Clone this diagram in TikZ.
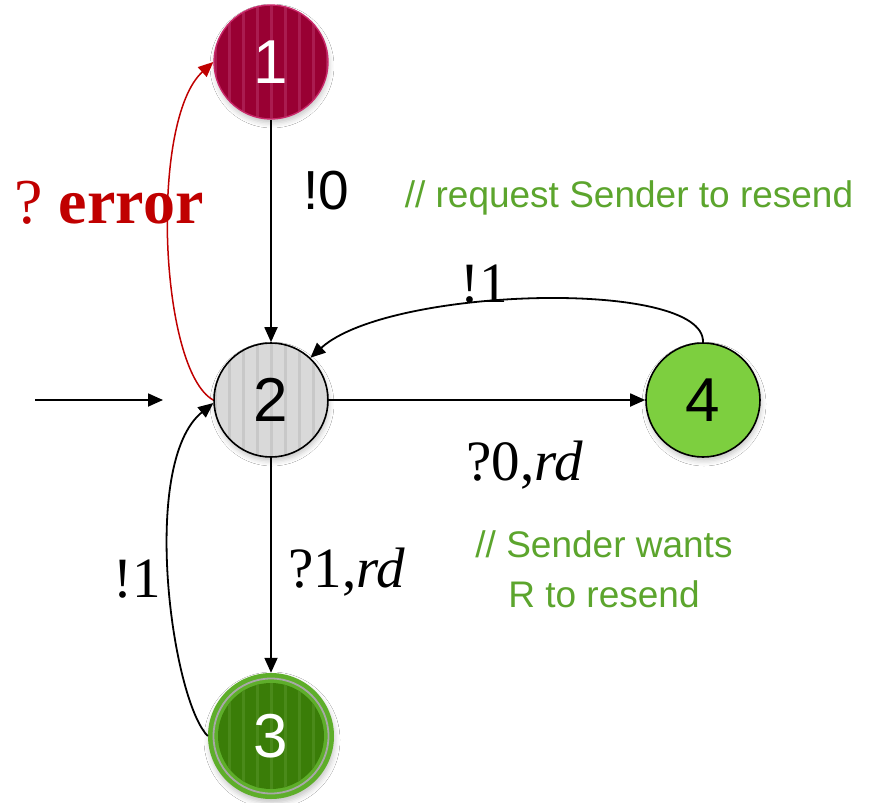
\documentclass[tikz,border=0pt]{standalone}
\usepackage{fontspec}
\setmainfont{Liberation Serif}
\newfontfamily\sansf{Liberation Sans}
\usetikzlibrary{arrows.meta,shadows.blur}

\definecolor{crimsonfill}{RGB}{153,0,51}
\definecolor{crimsonline}{RGB}{200,40,105}
\definecolor{crimsonstripe}{RGB}{170,28,80}
\definecolor{greyfill}{RGB}{217,217,217}
\definecolor{greystripe}{RGB}{200,200,200}
\definecolor{darkgreen}{RGB}{58,125,8}
\definecolor{darkgreenstripe}{RGB}{74,138,26}
\definecolor{ringgreen}{RGB}{94,174,42}
\definecolor{ringgrey}{RGB}{168,168,168}
\definecolor{limefill}{RGB}{125,207,63}
\definecolor{notegreen}{RGB}{92,165,45}
\definecolor{errred}{RGB}{192,0,0}

\tikzset{
  pinstripe/.style={path picture={
    \foreach \k in {-5,...,5}{
      \fill[#1] ([xshift=\k*14pt-1.5pt]path picture bounding box.south)
        rectangle ([xshift=\k*14pt+1.5pt]path picture bounding box.north);
    }}},
  softshadow/.style={blur shadow={shadow xshift=1pt,shadow yshift=-4pt,
    shadow blur radius=5pt,shadow opacity=22}},
  statebase/.style={circle,inner sep=0pt,minimum size=114pt,
    font=\sansf\fontsize{62}{62}\selectfont},
  stateA/.style={statebase,fill=crimsonfill,draw=crimsonline,line width=1.4pt,
    text=white,pinstripe=crimsonstripe,softshadow},
  stateB/.style={statebase,fill=greyfill,draw=black,line width=1.6pt,
    pinstripe=greystripe,softshadow},
  stateCouter/.style={circle,inner sep=0pt,minimum size=126pt,fill=ringgreen,softshadow},
  stateCcore/.style={statebase,minimum size=106pt,fill=darkgreen,text=white,
    pinstripe=darkgreenstripe},
  stateD/.style={statebase,fill=limefill,draw=black,line width=1.6pt,softshadow},
  edge/.style={line width=1.8pt,-{Triangle[length=15pt,width=13pt]}},
  erredge/.style={edge,line width=1.5pt,draw=errred,
    -{Triangle[length=15pt,width=13pt,fill=errred]}},
  serlabel/.style={anchor=base,inner sep=0pt,font=\fontsize{57}{57}\selectfont},
  notelabel/.style={anchor=base,inner sep=0pt,text=notegreen,
    font=\sansf\fontsize{37}{37}\selectfont},
}

\begin{document}
\begin{tikzpicture}[x=1pt,y=-1pt]
  \useasboundingbox[fill=white] (0,0) rectangle (873,803);

  % states
  \node[stateA] (n1) at (271,62) {1};
  \node[stateB] (n2) at (271,400) {2};
  \node[stateCouter] (n3) at (271,736) {};
  \draw[ringgrey,line width=1.8pt] (n3.center) circle[radius=57.5pt];
  \node[stateCcore] (n3core) at (n3.center) {3};
  \node[stateD] (n4) at (703,400) {4};

  % initial arrow
  \coordinate (initStart) at (35,400);
  \coordinate (initEnd) at (163,400);
  \draw[edge] (initStart) -- (initEnd);

  % transitions
  \draw[edge] (n1.south) -- (n2.north);
  \draw[edge] (n2.east) -- (n4.west);
  \draw[edge] (n2.south) -- (n3.north);
  \draw[edge] (n4.north) .. controls +(2,-64) and +(78,-71) .. (n2.47);
  \draw[edge] (n3.west) .. controls +(-36,-36) and +(-74,60) .. (n2.183);
  \draw[erredge] (n2.west) .. controls +(-54,-30) and +(-64,58) .. (n1.west);

  % labels
  \node[anchor=base,inner sep=0pt,font=\sansf\fontsize{55}{55}\selectfont]
    (lbl10) at (326,209) {!0};
  \node[notelabel] (note1) at (629,207) {// request Sender to resend};
  \node[serlabel] (lbl41) at (484,302) {!1};
  \node[serlabel] (lbl24) at (525,480) {?0,\textit{rd}};
  \node[notelabel] (note2a) at (604,557) {// Sender wants};
  \node[notelabel] (note2b) at (604,607) {R to resend};
  \node[serlabel] (lbl23) at (347,587) {?1,\textit{rd}};
  \node[serlabel] (lbl32) at (137,597) {!1};
  \node[serlabel,text=errred,font=\fontsize{64}{64}\selectfont]
    (lblerr) at (109,223) {?\hspace{0.25em}\textbf{error}};
\end{tikzpicture}
\end{document}
